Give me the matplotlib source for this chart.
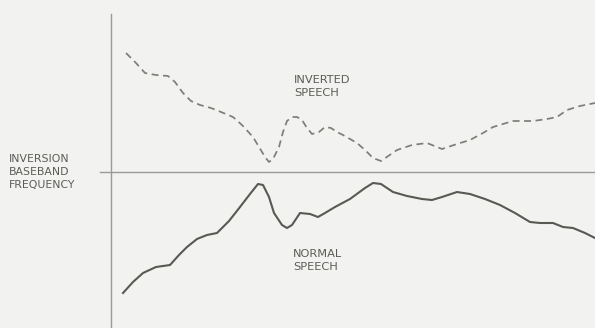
import matplotlib
matplotlib.use("Agg")
import matplotlib.pyplot as plt

# time axis (pixels right of the vertical axis) and frequency offset from the
# inversion baseband line (positive = above)
inv_t = [15, 25, 34, 45, 57, 64, 72, 80, 89, 100, 110, 122, 131, 142, 148, 154,
         158, 162, 168, 172, 176, 181, 186, 191, 196, 201, 208, 214, 220, 226,
         232, 239, 246, 254, 262, 270, 286, 301, 316, 331, 346, 359, 372, 382,
         402, 422, 436, 446, 456, 469, 484]
inv_f = [119, 109, 99, 97, 96, 90, 79, 71, 67, 64, 60, 55, 47, 35, 25, 15,
         10, 13, 25, 40, 51, 55, 55, 52, 44, 38, 40, 45, 44, 40, 37, 33,
         29, 22, 14, 11, 22, 27, 29, 23, 28, 32, 39, 45, 51, 51, 53, 55, 62, 66, 69]

norm_t = [12, 22, 32, 45, 59, 68, 76, 86, 96, 106, 118, 129, 139, 147, 152,
          158, 163, 171, 176, 181, 189, 199, 207, 214, 224, 239, 254, 262,
          270, 282, 296, 311, 321, 331, 346, 359, 374, 389, 404, 419, 429,
          442, 452, 462, 474, 484]
norm_f = [-121, -110, -101, -95, -93, -83, -75, -67, -63, -61, -49, -35, -22,
          -12, -13, -25, -41, -53, -56, -53, -41, -42, -45, -41, -35, -27,
          -16, -11, -12, -20, -24, -27, -28, -25, -20, -22, -27, -33, -41,
          -50, -51, -51, -55, -56, -61, -66]

labels = {"inv": "INVERTED\nSPEECH", "norm": "NORMAL\nSPEECH",
          "axis": "INVERSION\nBASEBAND\nFREQUENCY"}

bg = "#f2f2f0"
fig = plt.figure(figsize=(5.95, 3.28), dpi=100, facecolor=bg)
ax = fig.add_axes([0, 0, 1, 1], facecolor=bg)
ax.set_xlim(-111, 484)
ax.set_ylim(-156, 172)

ax.plot(inv_t, inv_f, color="#7f7d77", lw=1.25, ls=(0, (4, 2.6)))
ax.plot(norm_t, norm_f, color="#595954", lw=1.5)

for side in ["top", "right"]:
    ax.spines[side].set_visible(False)
ax.spines["left"].set_position(("data", 0))
ax.spines["left"].set_bounds(-156, 158)
ax.spines["bottom"].set_position(("data", 0))
ax.spines["bottom"].set_bounds(-11, 484)
for side in ["left", "bottom"]:
    ax.spines[side].set_color("#9a9a96")
    ax.spines[side].set_linewidth(1.0)
ax.set_xticks([])
ax.set_yticks([])

txt = dict(color="#5c5c57", fontsize=8.2, fontfamily="DejaVu Sans",
           linespacing=1.36, va="top", ha="left")
ax.text(183, 97, labels["inv"], **txt)
ax.text(182, -77, labels["norm"], **txt)
ax.text(-102, 18, labels["axis"], **dict(txt, fontsize=7.8, linespacing=1.36))

fig.savefig("out.png", dpi=100, facecolor=bg)
